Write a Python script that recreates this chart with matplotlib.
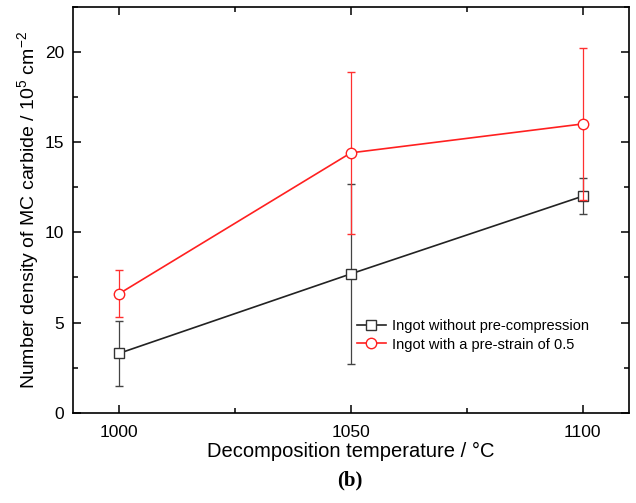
import numpy as np
import matplotlib
matplotlib.use('Agg')
import matplotlib.pyplot as plt
from matplotlib.ticker import MultipleLocator
from matplotlib.lines import Line2D

plt.rcParams['font.family'] = ['Liberation Sans', 'DejaVu Sans']
plt.rcParams['mathtext.fontset'] = 'custom'
plt.rcParams['mathtext.rm'] = 'Liberation Sans'
plt.rcParams['mathtext.it'] = 'Liberation Sans:italic'

# decomposition temperature (degC)
temps = [1000, 1050, 1100]

# number density of MC carbide (10^5 cm^-2)
no_precomp = [3.3, 7.7, 12.0]
no_precomp_err = [1.8, 5.0, 1.0]
prestrain = [6.6, 14.4, 16.0]
prestrain_err = [1.3, 4.5, 4.2]

labels = ['Ingot without pre-compression', 'Ingot with a pre-strain of 0.5']

black_style = dict(color='#222222', marker='s', ms=6.5, mfc='white', mec='#333333', mew=1.0, lw=1.2)
red_style = dict(color='#ff2020', marker='o', ms=7.5, mfc='white', mec='#ff2020', mew=1.0, lw=1.2)

fig = plt.figure(figsize=(6.36, 5.03), dpi=100)
ax = fig.add_axes([0.1143, 0.179, 0.8747, 0.808])

ax.errorbar(temps, no_precomp, yerr=no_precomp_err, ecolor='#444444',
            elinewidth=0.9, capsize=3, capthick=0.9, zorder=3, **black_style)
ax.errorbar(temps, prestrain, yerr=prestrain_err, ecolor='#ff3030',
            elinewidth=0.9, capsize=3, capthick=0.9, zorder=4, **red_style)

ax.set_xlim(990, 1110)
ax.set_ylim(0, 22.5)
ax.xaxis.set_major_locator(MultipleLocator(50))
ax.xaxis.set_minor_locator(MultipleLocator(25))
ax.yaxis.set_major_locator(MultipleLocator(5))
ax.yaxis.set_minor_locator(MultipleLocator(2.5))
ax.tick_params(which='both', direction='in', top=True, right=True, width=1.1,
               labelsize=12.5, colors='black')
ax.tick_params(which='major', length=6)
ax.tick_params(axis='x', which='major', pad=9)
ax.tick_params(axis='y', which='major', pad=6)
ax.tick_params(which='minor', length=3.5)
for sp in ax.spines.values():
    sp.set_linewidth(1.2)

ax.set_xlabel('Decomposition temperature / \u00b0C', fontsize=14.5, labelpad=1)
ax.set_ylabel('Number density of MC carbide / 10$^{5}$ cm$^{-2}$', fontsize=14, labelpad=3)

handles = [Line2D([], [], **black_style), Line2D([], [], **red_style)]
ax.legend(handles, labels, loc='upper left', bbox_to_anchor=(0.5, 0.245), frameon=False,
          fontsize=10.5, handlelength=2.0, handletextpad=0.4,
          labelspacing=0.3, borderaxespad=0)

fig.text(0.55, 0.035, '(b)', fontsize=15, fontweight='bold',
         family=['Liberation Serif', 'DejaVu Serif'], ha='center', va='baseline')

fig.savefig('out.png', dpi=100)
